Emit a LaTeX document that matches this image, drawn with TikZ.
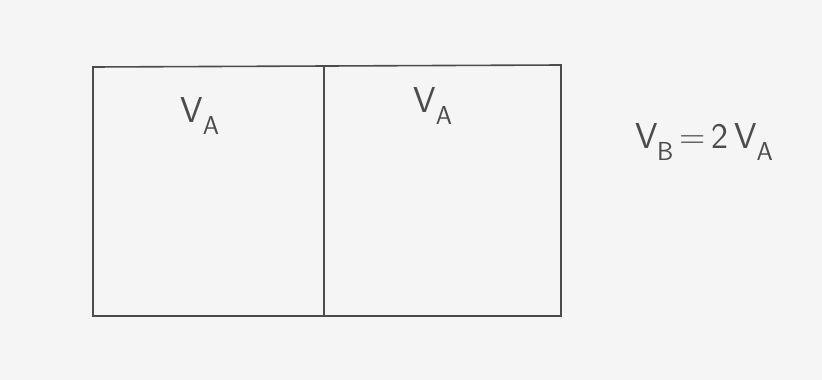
\documentclass[tikz,border=0pt]{standalone}
\usepackage{fontspec}
\setmainfont{DejaVu Sans}
\newcommand{\vsub}[1]{V\kern-0.5pt\raisebox{-0.35em}{\fontsize{26}{28}\selectfont #1}}
\begin{document}
\begin{tikzpicture}[x=1pt,y=-1pt,
  wall/.style={draw=black!70,line width=1.6pt},
  lbl/.style={font=\fontsize{36}{40}\selectfont\sffamily,text=black!70}]
\useasboundingbox[fill=black!4] (0,0) rectangle (822,380);
\coordinate (tl) at (93,67);
\coordinate (tm) at (324,66);
\coordinate (tr) at (561,65);
\coordinate (bl) at (93,316);
\coordinate (bm) at (324,315);
\coordinate (br) at (561,316);
\draw[wall] (tl) -- (tr) -- (br) -- (bl) -- cycle;
\draw[wall] (tm) -- (bm);
\node[lbl] (va1) at (200,116) {\vsub{A}};
\node[lbl] (va2) at (433,106) {\vsub{A}};
\node[lbl] (vb) at (704,142) {\vsub{B}\,=\,2\,\vsub{A}};
\end{tikzpicture}
\end{document}
